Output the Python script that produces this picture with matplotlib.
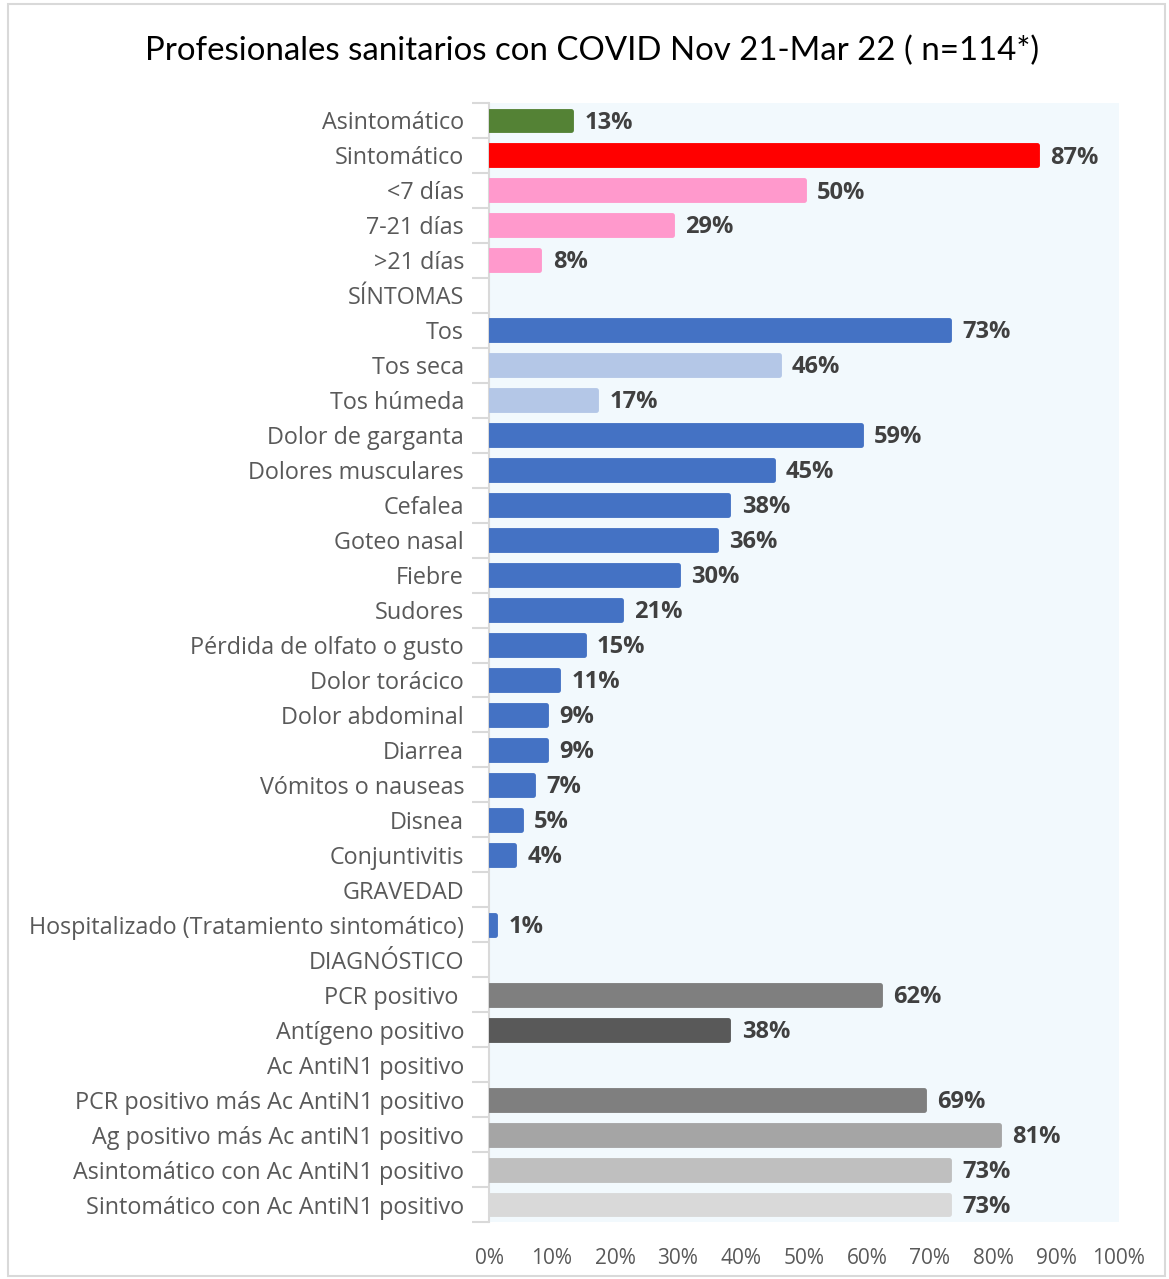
import matplotlib
matplotlib.use("Agg")
import matplotlib.pyplot as plt
from matplotlib.patches import Rectangle
from matplotlib.ticker import FixedLocator, PercentFormatter

categories = [
    "Asintomático", "Sintomático", "<7 días", "7-21 días", ">21 días",
    "SÍNTOMAS", "Tos", "Tos seca", "Tos húmeda", "Dolor de garganta",
    "Dolores musculares", "Cefalea", "Goteo nasal", "Fiebre", "Sudores",
    "Pérdida de olfato o gusto", "Dolor torácico", "Dolor abdominal",
    "Diarrea", "Vómitos o nauseas", "Disnea", "Conjuntivitis", "GRAVEDAD",
    "Hospitalizado (Tratamiento sintomático)", "DIAGNÓSTICO", "PCR positivo ",
    "Antígeno positivo", "Ac AntiN1 positivo",
    "PCR positivo más Ac AntiN1 positivo", "Ag positivo más Ac antiN1 positivo",
    "Asintomático con Ac AntiN1 positivo", "Sintomático con Ac AntiN1 positivo",
]
percentages = [
    13, 87, 50, 29, 8,
    None, 73, 46, 17, 59,
    45, 38, 36, 30, 21,
    15, 11, 9,
    9, 7, 5, 4, None,
    1, None, 62,
    38, None,
    69, 81,
    73, 73,
]
bar_colors = [
    "#548235", "#FF0000", "#FF99CC", "#FF99CC", "#FF99CC",
    None, "#4472C4", "#B4C7E7", "#B4C7E7", "#4472C4",
    "#4472C4", "#4472C4", "#4472C4", "#4472C4", "#4472C4",
    "#4472C4", "#4472C4", "#4472C4",
    "#4472C4", "#4472C4", "#4472C4", "#4472C4", None,
    "#4472C4", None, "#7F7F7F",
    "#595959", None,
    "#7F7F7F", "#A5A5A5",
    "#BFBFBF", "#D9D9D9",
]
x_ticks = [0, 10, 20, 30, 40, 50, 60, 70, 80, 90, 100]

W, H, DPI = 1169, 1279, 100
fig = plt.figure(figsize=(W / DPI, H / DPI), dpi=DPI)
fig.patch.set_facecolor("white")

# outer frame of the chart
fig.add_artist(Rectangle((8 / W, 3 / H), (W - 12) / W, (H - 7) / H,
                         transform=fig.transFigure, fill=False,
                         edgecolor="#D9D9D9", linewidth=1.5))

left, right, top, bottom = 489, 1119, 103, 1222
ax = fig.add_axes([left / W, 1 - bottom / H, (right - left) / W, (bottom - top) / H])
ax.set_facecolor("#F2F9FD")

n = len(categories)
ypos = list(range(n))
for y, v, c in zip(ypos, percentages, bar_colors):
    if v is None:
        continue
    ax.barh(y, v, height=0.57, color=c, edgecolor=c, linewidth=3.5,
            joinstyle="round", zorder=3)
    ax.text(v + 2.1, y + 0.06, f"{v}%", va="center", ha="left", fontsize=17,
            fontweight="bold", color="#404040", family="Open Sans", zorder=4)

ax.set_xlim(0, 100)
ax.set_ylim(n - 0.5, -0.5)
ax.set_yticks(ypos)
ax.set_yticklabels(categories, fontsize=16.8, color="#595959", family="Open Sans")
ax.tick_params(axis="y", which="major", length=0, pad=18)
ax.yaxis.set_minor_locator(FixedLocator([i - 0.5 for i in range(n + 1)]))
ax.tick_params(axis="y", which="minor", length=12, width=1.5, color="#D9D9D9")

ax.set_xticks(x_ticks)
ax.xaxis.set_major_formatter(PercentFormatter(decimals=0))
ax.tick_params(axis="x", length=0, labelsize=15, labelcolor="#595959", pad=19)
for lbl in ax.get_xticklabels():
    lbl.set_family("Open Sans")

for side in ("top", "right", "bottom"):
    ax.spines[side].set_visible(False)
ax.spines["left"].set_color("#D9D9D9")
ax.spines["left"].set_linewidth(1.5)

fig.text(592 / W, 1 - 51 / H, "Profesionales sanitarios con COVID Nov 21-Mar 22 ( n=114*)",
         ha="center", va="center", fontsize=23.8, color="#000000", family="Lato")

fig.savefig("out.png", dpi=DPI)
